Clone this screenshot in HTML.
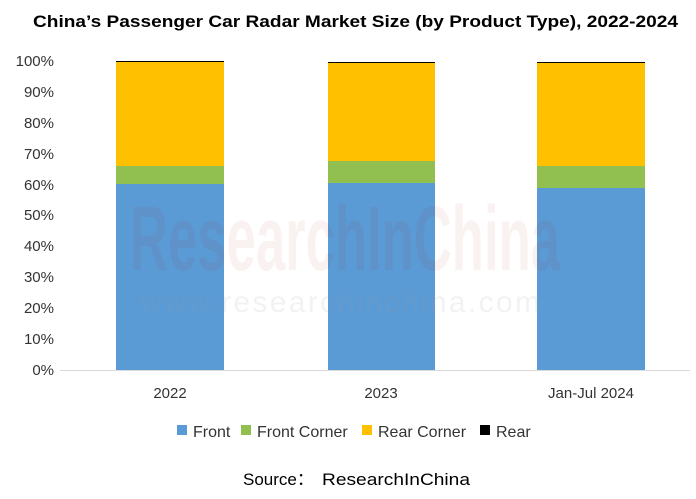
<!DOCTYPE html>
<html><head><style>
body{margin:0;background:#fff;width:696px;height:494px;overflow:hidden;font-family:"Liberation Sans",Arial,sans-serif;}
</style></head><body>
<svg width="696" height="494" xmlns="http://www.w3.org/2000/svg" font-family="Liberation Sans, Arial, sans-serif">
<text x="33" y="27" font-size="17" font-weight="bold" fill="#000" textLength="645" lengthAdjust="spacingAndGlyphs">China’s Passenger Car Radar Market Size (by Product Type), 2022-2024</text>
<g font-size="15" fill="#333" text-anchor="end">
<text x="54" y="66">100%</text><text x="54" y="97">90%</text><text x="54" y="128">80%</text>
<text x="54" y="159">70%</text><text x="54" y="190">60%</text><text x="54" y="220">50%</text>
<text x="54" y="251">40%</text><text x="54" y="282">30%</text><text x="54" y="313">20%</text>
<text x="54" y="344">10%</text><text x="54" y="375">0%</text>
</g>
<rect x="116" y="61" width="108" height="1.5" fill="#000"/>
<rect x="116" y="62" width="108" height="104" fill="#FFC000"/>
<rect x="116" y="166" width="108" height="18" fill="#92C050"/>
<rect x="116" y="184" width="108" height="186" fill="#5B9BD5"/>
<rect x="328" y="62" width="107" height="1.5" fill="#000"/>
<rect x="328" y="63" width="107" height="98" fill="#FFC000"/>
<rect x="328" y="161" width="107" height="22" fill="#92C050"/>
<rect x="328" y="183" width="107" height="187" fill="#5B9BD5"/>
<rect x="537" y="62" width="108" height="1.5" fill="#000"/>
<rect x="537" y="63" width="108" height="103" fill="#FFC000"/>
<rect x="537" y="166" width="108" height="22" fill="#92C050"/>
<rect x="537" y="188" width="108" height="182" fill="#5B9BD5"/>
<line x1="60" y1="370.5" x2="690" y2="370.5" stroke="#d9d9d9"/>
<text x="130" y="270" font-size="92" font-weight="bold" fill="#a00" opacity="0.05" textLength="430" lengthAdjust="spacingAndGlyphs">ResearchInChina</text>
<text x="140" y="312" font-size="30" fill="#999" opacity="0.12" textLength="400" lengthAdjust="spacing">www.researchinchina.com</text>
<g font-size="15" fill="#333" text-anchor="middle">
<text x="170" y="398">2022</text><text x="381" y="398">2023</text><text x="591" y="398">Jan-Jul 2024</text>
</g>
<g font-size="16" fill="#333">
<rect x="177" y="425" width="10" height="10" fill="#5B9BD5"/><text x="193" y="437">Front</text>
<rect x="241" y="425" width="10" height="10" fill="#92C050"/><text x="257" y="437">Front Corner</text>
<rect x="362" y="425" width="10" height="10" fill="#FFC000"/><text x="378" y="437">Rear Corner</text>
<rect x="480" y="425" width="10" height="10" fill="#000"/><text x="496" y="437">Rear</text>
</g>
<text x="243" y="485" font-size="17" fill="#000">Source：</text>
<text x="322" y="485" font-size="17" fill="#000" textLength="148" lengthAdjust="spacingAndGlyphs">ResearchInChina</text>
</svg>
</body></html>
